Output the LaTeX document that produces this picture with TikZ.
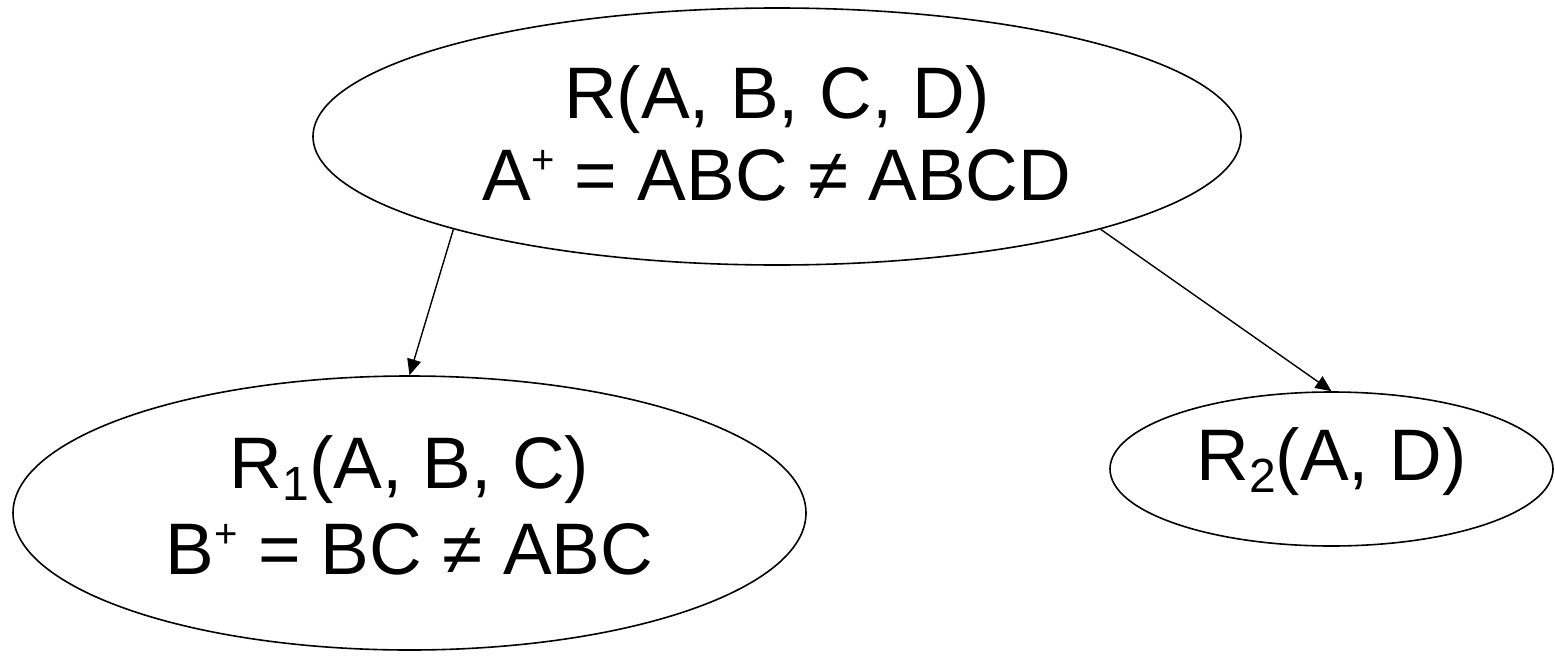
\documentclass[tikz,border=0pt]{standalone}
\usepackage{fontspec}
\setmainfont{Liberation Sans}
\usetikzlibrary{shapes.geometric,arrows.meta}
\newcommand\supplus{\raisebox{27pt}{\fontsize{40}{40}\selectfont +}}
\newcommand\subnum[1]{\raisebox{-12pt}{\fontsize{48}{48}\selectfont #1}}
\begin{document}
\begin{tikzpicture}[x=1pt,y=-1pt,
  rel/.style={ellipse,draw,line width=1.6pt,inner sep=0pt},
  lbl/.style={align=center,inner sep=0pt,font=\fontsize{73}{82}\selectfont},
  conn/.style={line width=1.4pt,-{Triangle[length=16pt,width=14pt]}}]
\useasboundingbox (0,0) rectangle (1555,656);
\node[rel,minimum width=928pt,minimum height=257pt] (top) at (777,136.5) {};
\node[lbl,yshift=3pt] (toptext) at (top.center)
  {R(A, B, C, D)\\A\supplus\ = ABC ≠ ABCD};
\node[rel,minimum width=793pt,minimum height=274pt] (r1) at (409.5,513) {};
\node[lbl,yshift=8pt,font=\fontsize{73}{86}\selectfont] (r1text) at (r1.center)
  {R\subnum{1}(A, B, C)\\B\supplus\ = BC ≠ ABC};
\node[rel,minimum width=443pt,minimum height=154pt] (r2) at (1331.5,469) {};
\node[lbl,yshift=7pt] (r2text) at (r2.center) {R\subnum{2}(A, D)};
\draw[conn] (top.196) -- (r1.north);
\draw[conn] (top.344.4) -- (r2.north);
\end{tikzpicture}
\end{document}
